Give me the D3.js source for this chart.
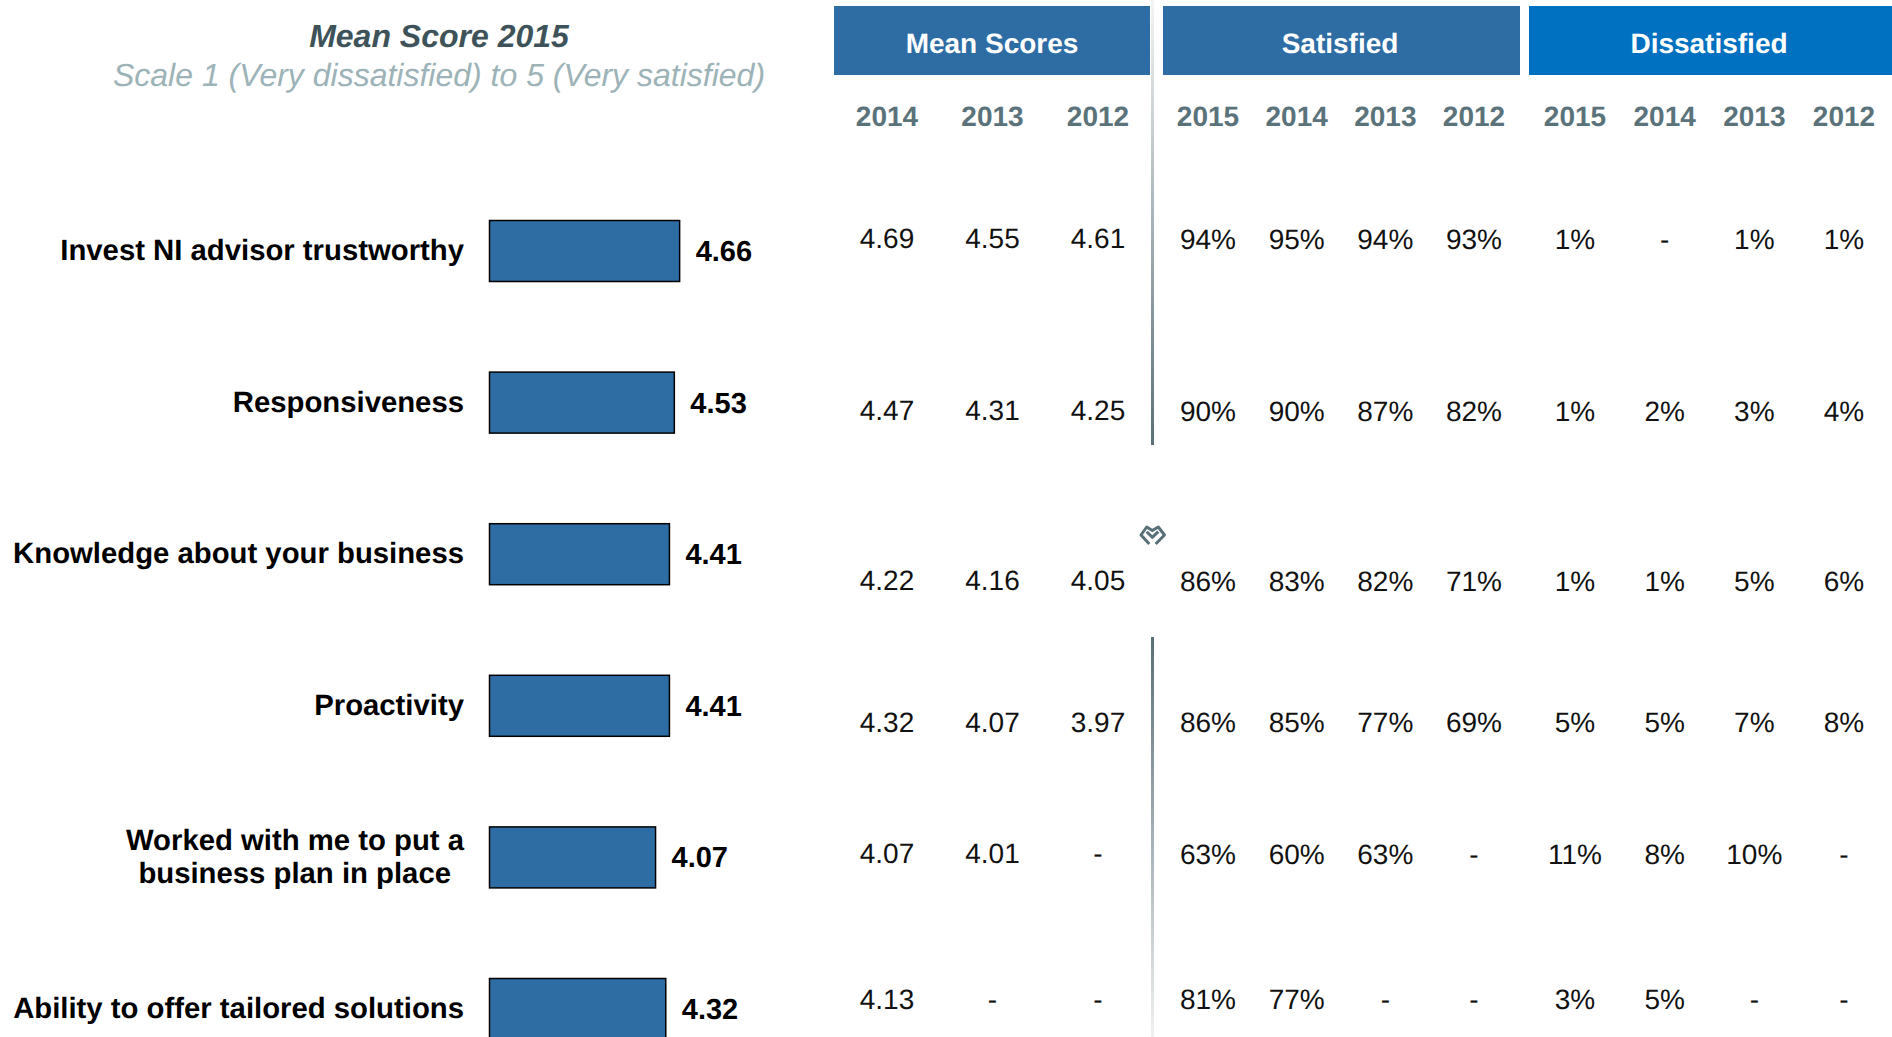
<!DOCTYPE html>
<html>
<head>
<meta charset="utf-8">
<script src="https://cdnjs.cloudflare.com/ajax/libs/d3/7.8.5/d3.min.js"></script>
<style>
  html, body { margin: 0; padding: 0; background: #fff; overflow: hidden; }
  text { font-family: "Liberation Sans", Arial, sans-serif; text-rendering: geometricPrecision; }
</style>
</head>
<body>
<div id="chart"></div>
<script>
var categories = [
  ["Invest NI advisor trustworthy"],
  ["Responsiveness"],
  ["Knowledge about your business"],
  ["Proactivity"],
  ["Worked with me to put a", "business plan in place"],
  ["Ability to offer tailored solutions"]
];
var score2015 = [4.66, 4.53, 4.41, 4.41, 4.07, 4.32];

var meanYears = ["2014", "2013", "2012"];
var pctYears = ["2015", "2014", "2013", "2012"];

var mean2014 = ["4.69", "4.47", "4.22", "4.32", "4.07", "4.13"];
var mean2013 = ["4.55", "4.31", "4.16", "4.07", "4.01", "-"];
var mean2012 = ["4.61", "4.25", "4.05", "3.97", "-", "-"];

var sat2015 = ["94%", "90%", "86%", "86%", "63%", "81%"];
var sat2014 = ["95%", "90%", "83%", "85%", "60%", "77%"];
var sat2013 = ["94%", "87%", "82%", "77%", "63%", "-"];
var sat2012 = ["93%", "82%", "71%", "69%", "-", "-"];

var dis2015 = ["1%", "1%", "1%", "5%", "11%", "3%"];
var dis2014 = ["-", "2%", "1%", "5%", "8%", "5%"];
var dis2013 = ["1%", "3%", "5%", "7%", "10%", "-"];
var dis2012 = ["1%", "4%", "6%", "8%", "-", "-"];

var width = 1892, height = 1037;
var idx = d3.range(categories.length);

var svg = d3.select("#chart").append("svg")
    .attr("width", width)
    .attr("height", height)
    .style("display", "block");

var defs = svg.append("defs");
function fade(id, stops) {
  var g = defs.append("linearGradient").attr("id", id)
      .attr("x1", 0).attr("y1", 0).attr("x2", 0).attr("y2", 1);
  stops.forEach(function(s, i) {
    g.append("stop").attr("offset", i).attr("stop-color", s);
  });
}
fade("fadeDown", ["#f4f5f5", "#587078"]);
fade("fadeUp", ["#587078", "#f0f1f1"]);

// bars on the left
var x = d3.scaleLinear().domain([0, 5]).range([489.5, 693.5]);
var y = d3.scalePoint().domain(idx).range([251, 1009]);
// the table rows are not evenly spaced in the original
var meanRow = d3.scaleOrdinal().domain(idx).range([238, 410, 580, 722, 853, 999]);
var pctRow = d3.scaleOrdinal().domain(idx).range([239, 411, 581, 722, 854, 999]);

var rows = svg.selectAll(".row")
    .data(idx)
  .enter().append("g")
    .attr("class", "row");

rows.append("rect")
    .attr("x", x(0))
    .attr("y", function(i) { return y(i) - 30.5; })
    .attr("width", function(i) { return x(score2015[i]) - x(0); })
    .attr("height", 61)
    .attr("fill", "#2e6da4")
    .attr("stroke", "#000")
    .attr("stroke-width", 1.5);

rows.append("text")
    .attr("x", function(i) { return x(score2015[i]) + 16; })
    .attr("y", function(i) { return y(i) - 0.4; })
    .attr("dy", ".36em")
    .attr("font-size", 29)
    .attr("font-weight", "bold")
    .attr("fill", "#000")
    .text(function(i) { return score2015[i].toFixed(2); });

rows.each(function(i) {
  var lines = categories[i];
  var two = lines.length > 1;
  d3.select(this).selectAll(".cat")
      .data(lines)
    .enter().append("text")
      .attr("class", "cat")
      .attr("x", function(d, j) { return two && j == 1 ? 451 : 464; })
      .attr("y", function(d, j) { return y(i) - 1.5 + (two ? (j - 0.5) * 33 : 0); })
      .attr("dy", ".36em")
      .attr("text-anchor", "end")
      .attr("font-size", 29.3)
      .attr("font-weight", "bold")
      .attr("fill", "#000")
      .text(function(d) { return d; });
});

svg.append("text")
    .attr("x", 439).attr("y", 47)
    .attr("text-anchor", "middle")
    .attr("font-size", 32).attr("font-weight", "bold").attr("font-style", "italic")
    .attr("fill", "#3d5359")
    .text("Mean Score 2015");

svg.append("text")
    .attr("x", 439).attr("y", 86)
    .attr("text-anchor", "middle")
    .attr("font-size", 32).attr("font-style", "italic")
    .attr("fill", "#9cb3b8")
    .text("Scale 1 (Very dissatisfied) to 5 (Very satisfied)");

// divider, broken around the little mark
svg.append("rect").attr("x", 1151).attr("y", 0).attr("width", 3).attr("height", 445).attr("fill", "url(#fadeDown)");
svg.append("rect").attr("x", 1151).attr("y", 637).attr("width", 3).attr("height", 400).attr("fill", "url(#fadeUp)");
svg.append("path")
    .attr("d", "M1149.3 544 L1141 535 L1146.7 527 L1152.3 530.5 L1158.3 527 L1164.5 535 L1155.7 544 M1146.7 531.7 L1152.3 537.3 L1158.3 531.7")
    .attr("fill", "none")
    .attr("stroke", "#587078")
    .attr("stroke-width", 3)
    .attr("stroke-linejoin", "round");

// table groups
var groups = [
  {name: "Mean Scores", x0: 834, x1: 1150, fill: "#2e6da4", years: meanYears, cols: [mean2014, mean2013, mean2012], range: [887, 1098], row: meanRow},
  {name: "Satisfied", x0: 1163, x1: 1520, fill: "#2e6da4", years: pctYears, cols: [sat2015, sat2014, sat2013, sat2012], range: [1208, 1474], row: pctRow},
  {name: "Dissatisfied", x0: 1529, x1: 1892, fill: "#0070c0", years: pctYears, cols: [dis2015, dis2014, dis2013, dis2012], range: [1575, 1844], row: pctRow}
];

var headerX = d3.scaleOrdinal().domain(groups.map(function(g) { return g.name; })).range([992, 1340, 1709]);

groups.forEach(function(g) {
  var col = d3.scalePoint().domain(d3.range(g.years.length)).range(g.range);

  svg.append("rect")
      .attr("x", g.x0).attr("y", 6)
      .attr("width", g.x1 - g.x0).attr("height", 69)
      .attr("fill", g.fill);

  svg.append("text")
      .attr("x", headerX(g.name)).attr("y", 43)
      .attr("dy", ".36em")
      .attr("text-anchor", "middle")
      .attr("font-size", 28).attr("font-weight", "bold")
      .attr("fill", "#fff")
      .text(g.name);

  svg.selectAll(null)
      .data(g.years)
    .enter().append("text")
      .attr("x", function(d, i) { return col(i); })
      .attr("y", 116)
      .attr("dy", ".36em")
      .attr("text-anchor", "middle")
      .attr("font-size", 28).attr("font-weight", "bold")
      .attr("fill", "#5a737b")
      .text(function(d) { return d; });

  g.cols.forEach(function(vals, c) {
    svg.selectAll(null)
        .data(vals)
      .enter().append("text")
        .attr("x", col(c))
        .attr("y", function(d, i) { return g.row(i); })
        .attr("dy", ".36em")
        .attr("text-anchor", "middle")
        .attr("font-size", 28)
        .attr("fill", "#111")
        .text(function(d) { return d; });
  });
});
</script>
</body>
</html>
